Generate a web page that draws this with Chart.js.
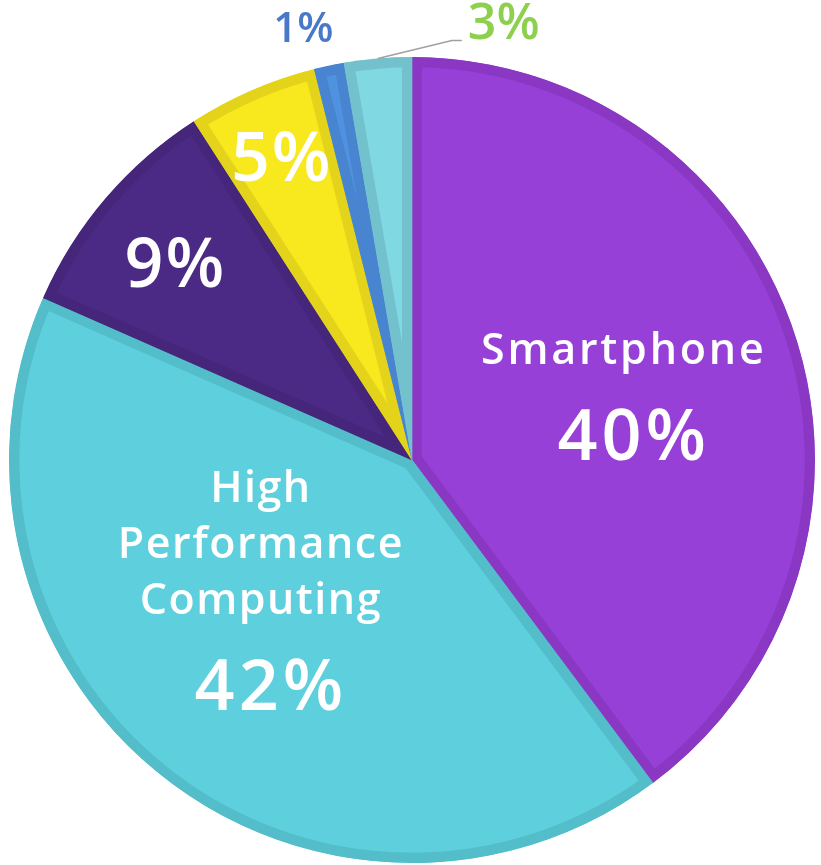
<!DOCTYPE html>
<html>
<head>
<meta charset="utf-8">
<script src="https://cdn.jsdelivr.net/npm/chart.js@4.4.1/dist/chart.umd.min.js"></script>
<style>
  html, body { margin: 0; padding: 0; background: #fff; }
  #wrap { width: 821px; height: 865px; }
</style>
</head>
<body>
<div id="wrap"><canvas id="pieChart"></canvas></div>
<script>
// order clockwise from 12 o'clock
const categories = ["Smartphone", "High Performance Computing", "Other A", "Other B", "Other C", "Other D"];
const shares = [39.8, 41.8, 9.3, 5.2, 1.2, 2.7];
const fillColors = ['#9640d8', '#5ecfdd', '#4b2a85', '#f8e81e', '#4f93e0', '#80d9e2'];
const edgeColors = ['#8a38c4', '#53bdc9', '#45267a', '#e3d41b', '#4884d0', '#72c1cd'];
const labelLines = [["Smartphone"], ["High", "Performance", "Computing"], [], [], [], []];

// where each label sits: radial fraction of the radius and angle shift (deg)
const labelPos = [
    { r: 0.545, shift: 2, inside: true },
    { r: 0.50, shift: 10.5, inside: true },
    { r: 0.76, shift: -1.7, inside: true },
    { r: 0.81, shift: -0.5, inside: true },
    { r: 1.10, shift: -2.3, inside: false, color: '#4a78c8', size: 42 },
    { r: 1.0, shift: 0, inside: false, color: '#8cd04e', size: 50, leader: true }
];

const FONT = '"Open Sans", Lato, sans-serif';

const pieLabels = {
    id: 'pieLabels',
    afterDatasetsDraw(chart) {
        const ctx = chart.ctx;
        const arcs = chart.getDatasetMeta(0).data;
        ctx.save();
        ctx.textAlign = 'center';
        ctx.textBaseline = 'middle';
        arcs.forEach((arc, i) => {
            const p = arc.getProps(['x', 'y', 'startAngle', 'endAngle', 'outerRadius'], true);
            const pos = labelPos[i];
            const mid = (p.startAngle + p.endAngle) / 2 + pos.shift * Math.PI / 180;
            const pct = Math.round(shares[i]) + '%';
            const cx = p.x + Math.cos(mid) * p.outerRadius * pos.r;
            const cy = p.y + Math.sin(mid) * p.outerRadius * pos.r;
            ctx.letterSpacing = '0px';
            if (pos.leader) {
                const x0 = cx, y0 = cy;
                ctx.strokeStyle = '#a0a0a0';
                ctx.lineWidth = 1.5;
                ctx.beginPath();
                ctx.moveTo(x0, y0);
                ctx.lineTo(x0 + 74, y0 - 18);
                ctx.lineTo(x0 + 84, y0 - 18);
                ctx.stroke();
                ctx.fillStyle = pos.color;
                ctx.font = '600 ' + pos.size + 'px ' + FONT;
                ctx.textAlign = 'left';
                ctx.fillText(pct, x0 + 90, y0 - 34);
                ctx.textAlign = 'center';
                return;
            }
            if (!pos.inside) {
                ctx.fillStyle = pos.color;
                ctx.font = '600 ' + pos.size + 'px ' + FONT;
                ctx.fillText(pct, cx, cy);
                return;
            }
            ctx.fillStyle = '#ffffff';
            const lines = labelLines[i];
            const lh = 56;
            const pctGap = lines.length ? 32 : 0;
            const total = lines.length * lh + (lines.length ? pctGap : 0) + 60;
            let y = cy - total / 2 + (lines.length ? lh / 2 : 30);
            ctx.font = '600 43px ' + FONT;
            ctx.letterSpacing = lines.length > 1 ? '1.5px' : '2.8px';
            lines.forEach(t => { ctx.fillText(t, cx + 1, y); y += lh; });
            if (lines.length) y += pctGap;
            ctx.font = lines.length ? '600 70px ' + FONT : '600 68px ' + FONT;
            ctx.letterSpacing = lines.length ? '4px' : '2px';
            ctx.fillText(pct, cx + (lines.length ? 11 : 2), y);
        });
        ctx.restore();
    }
};

new Chart(document.getElementById('pieChart'), {
    type: 'pie',
    data: {
        labels: categories,
        datasets: [{
            data: shares,
            backgroundColor: fillColors,
            borderColor: edgeColors,
            borderWidth: 10,
            borderAlign: 'inner'
        }]
    },
    options: {
        responsive: true,
        maintainAspectRatio: false,
        animation: false,
        layout: { padding: { left: 3, right: 0, top: 57, bottom: 2 } },
        plugins: {
            legend: { display: false },
            tooltip: { enabled: false }
        }
    },
    plugins: [pieLabels]
});
</script>
</body>
</html>
